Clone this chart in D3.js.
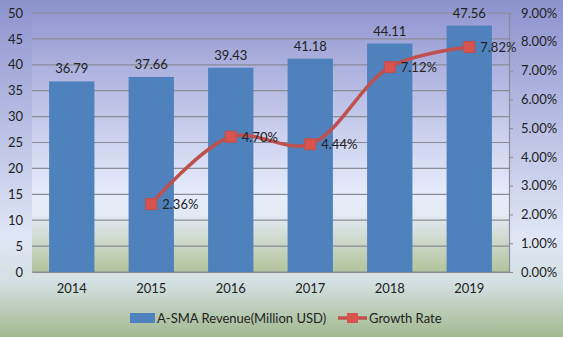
<!doctype html>
<html lang="en">
	<head>
		<meta charset="UTF-8">
		<title>A-SMA Revenue</title>
		<style>
			body { margin: 0; }
			svg text { font-family: Lato, "Open Sans", sans-serif; fill: #222; }
		</style>
	</head>
	<body>
		<svg class="chart"></svg>

		<script src="https://d3js.org/d3.v7.min.js"></script>
		<script>

			// Data
			var years = ["2014", "2015", "2016", "2017", "2018", "2019"];
			var revenue = [36.79, 37.66, 39.43, 41.18, 44.11, 47.56];
			var growthYears = ["2015", "2016", "2017", "2018", "2019"];
			var growth = [2.36, 4.70, 4.44, 7.12, 7.82];
			var leftTicks = [0, 5, 10, 15, 20, 25, 30, 35, 40, 45, 50];
			var rightTicks = [0, 1, 2, 3, 4, 5, 6, 7, 8, 9];

			var width = 563, height = 337;
			var margin = {top: 13, right: 54, bottom: 65, left: 32};
			var plotW = width - margin.left - margin.right;
			var plotH = height - margin.top - margin.bottom;

			var svg = d3.select("svg")
				.attr("width", width)
				.attr("height", height);

			var defs = svg.append("defs");

			// chart background gradient
			var bg = defs.append("linearGradient").attr("id", "bg")
				.attr("x1", 0).attr("y1", 0).attr("x2", 0).attr("y2", 1);
			bg.append("stop").attr("offset", "0%").attr("stop-color", "#8d93ce");
			bg.append("stop").attr("offset", "70%").attr("stop-color", "#dfe6f6");
			bg.append("stop").attr("offset", "84%").attr("stop-color", "#d3e0e2");
			bg.append("stop").attr("offset", "100%").attr("stop-color", "#a2b98f");

			// plot area gradient
			var pg = defs.append("linearGradient").attr("id", "pg")
				.attr("x1", 0).attr("y1", 0).attr("x2", 0).attr("y2", 1);
			pg.append("stop").attr("offset", "0%").attr("stop-color", "#9499d2");
			pg.append("stop").attr("offset", "70%").attr("stop-color", "#e6ecfb");
			pg.append("stop").attr("offset", "78%").attr("stop-color", "#e3eaf3");
			pg.append("stop").attr("offset", "100%").attr("stop-color", "#b2c49c");

			svg.append("rect")
				.attr("width", width).attr("height", height)
				.attr("fill", "url(#bg)");

			var g = svg.append("g")
				.attr("transform", "translate(" + margin.left + "," + margin.top + ")");

			g.append("rect")
				.attr("width", plotW).attr("height", plotH)
				.attr("fill", "url(#pg)");

			// Scales
			var x = d3.scaleBand().domain(years).range([0, plotW]).paddingInner(0.43).paddingOuter(0.215);
			var xCenter = d3.scaleBand().domain(years).range([0, plotW]);
			var y = d3.scaleLinear().domain([0, 50]).range([plotH, 0]);
			var y2 = d3.scaleLinear().domain([0, 9]).range([plotH, 0]);

			// Gridlines
			g.selectAll(".grid")
				.data(leftTicks)
				.enter()
				.append("line")
				.attr("x1", 0).attr("x2", plotW)
				.attr("y1", function(d) { return y(d); })
				.attr("y2", function(d) { return y(d); })
				.attr("stroke", "#8a8c96")
				.attr("stroke-width", 1.2);

			// Left axis labels
			var leftAxis = g.append("g")
				.call(d3.axisLeft(y).tickValues(leftTicks).tickSize(0).tickPadding(9));
			leftAxis.select(".domain").remove();
			leftAxis.selectAll("text").style("font-size", "13px").attr("fill", "#222");

			// Right axis
			var rightAxis = g.append("g")
				.attr("transform", "translate(" + plotW + ",0)")
				.call(d3.axisRight(y2).tickValues(rightTicks).tickSize(4).tickPadding(8)
					.tickFormat(function(d) { return d3.format(".2f")(d) + "%"; }));
			rightAxis.select(".domain").attr("stroke", "#8a8c96").attr("stroke-width", 1.2);
			rightAxis.selectAll("line").attr("stroke", "#8a8c96");
			rightAxis.selectAll("text").style("font-size", "13px").attr("fill", "#222");

			// Bars
			g.selectAll(".bar")
				.data(revenue)
				.enter()
				.append("rect")
				.attr("x", function(d, i) { return x(years[i]); })
				.attr("y", function(d) { return y(d); })
				.attr("width", x.bandwidth())
				.attr("height", function(d) { return plotH - y(d); })
				.attr("fill", "#4f81bd");

			// Bar labels
			g.selectAll(".barlabel")
				.data(revenue)
				.enter()
				.append("text")
				.attr("x", function(d, i) { return x(years[i]) + x.bandwidth() / 2; })
				.attr("y", function(d) { return y(d) - 8; })
				.attr("text-anchor", "middle")
				.style("font-size", "13px")
				.text(function(d) { return d3.format(".2f")(d); });

			// X axis labels
			var xAxis = g.append("g")
				.attr("transform", "translate(0," + plotH + ")")
				.call(d3.axisBottom(xCenter).tickSize(0).tickPadding(12));
			xAxis.select(".domain").attr("stroke", "#8a8c96").attr("stroke-width", 1.2);
			xAxis.selectAll("text").style("font-size", "13px").attr("fill", "#222");

			// Growth line
			var line = d3.line()
				.x(function(d, i) { return xCenter(growthYears[i]) + xCenter.bandwidth() / 2; })
				.y(function(d) { return y2(d); })
				.curve(d3.curveCatmullRom);

			g.append("path")
				.datum(growth)
				.attr("d", line)
				.attr("fill", "none")
				.attr("stroke", "#c0504d")
				.attr("stroke-width", 3.5);

			g.selectAll(".marker")
				.data(growth)
				.enter()
				.append("rect")
				.attr("x", function(d, i) { return xCenter(growthYears[i]) + xCenter.bandwidth() / 2 - 5.5; })
				.attr("y", function(d) { return y2(d) - 5.5; })
				.attr("width", 11).attr("height", 11)
				.attr("fill", "#d9534f")
				.attr("stroke", "#c0504d");

			g.selectAll(".linelabel")
				.data(growth)
				.enter()
				.append("text")
				.attr("x", function(d, i) { return xCenter(growthYears[i]) + xCenter.bandwidth() / 2 + 11; })
				.attr("y", function(d) { return y2(d) + 5; })
				.style("font-size", "13px")
				.text(function(d) { return d3.format(".2f")(d) + "%"; });

			// Legend
			var legend = svg.append("g").attr("transform", "translate(0,318)");
			legend.append("rect")
				.attr("x", 130).attr("y", -5).attr("width", 25).attr("height", 10)
				.attr("fill", "#4f81bd");
			legend.append("text")
				.attr("x", 157).attr("y", 5)
				.style("font-size", "13px")
				.text("A-SMA Revenue(Million USD)");
			legend.append("line")
				.attr("x1", 338).attr("x2", 367).attr("y1", 0).attr("y2", 0)
				.attr("stroke", "#c0504d").attr("stroke-width", 3.5);
			legend.append("rect")
				.attr("x", 347).attr("y", -5).attr("width", 11).attr("height", 10)
				.attr("fill", "#d9534f");
			legend.append("text")
				.attr("x", 369).attr("y", 5)
				.style("font-size", "13px")
				.text("Growth Rate");

		</script>
	</body>
</html>
